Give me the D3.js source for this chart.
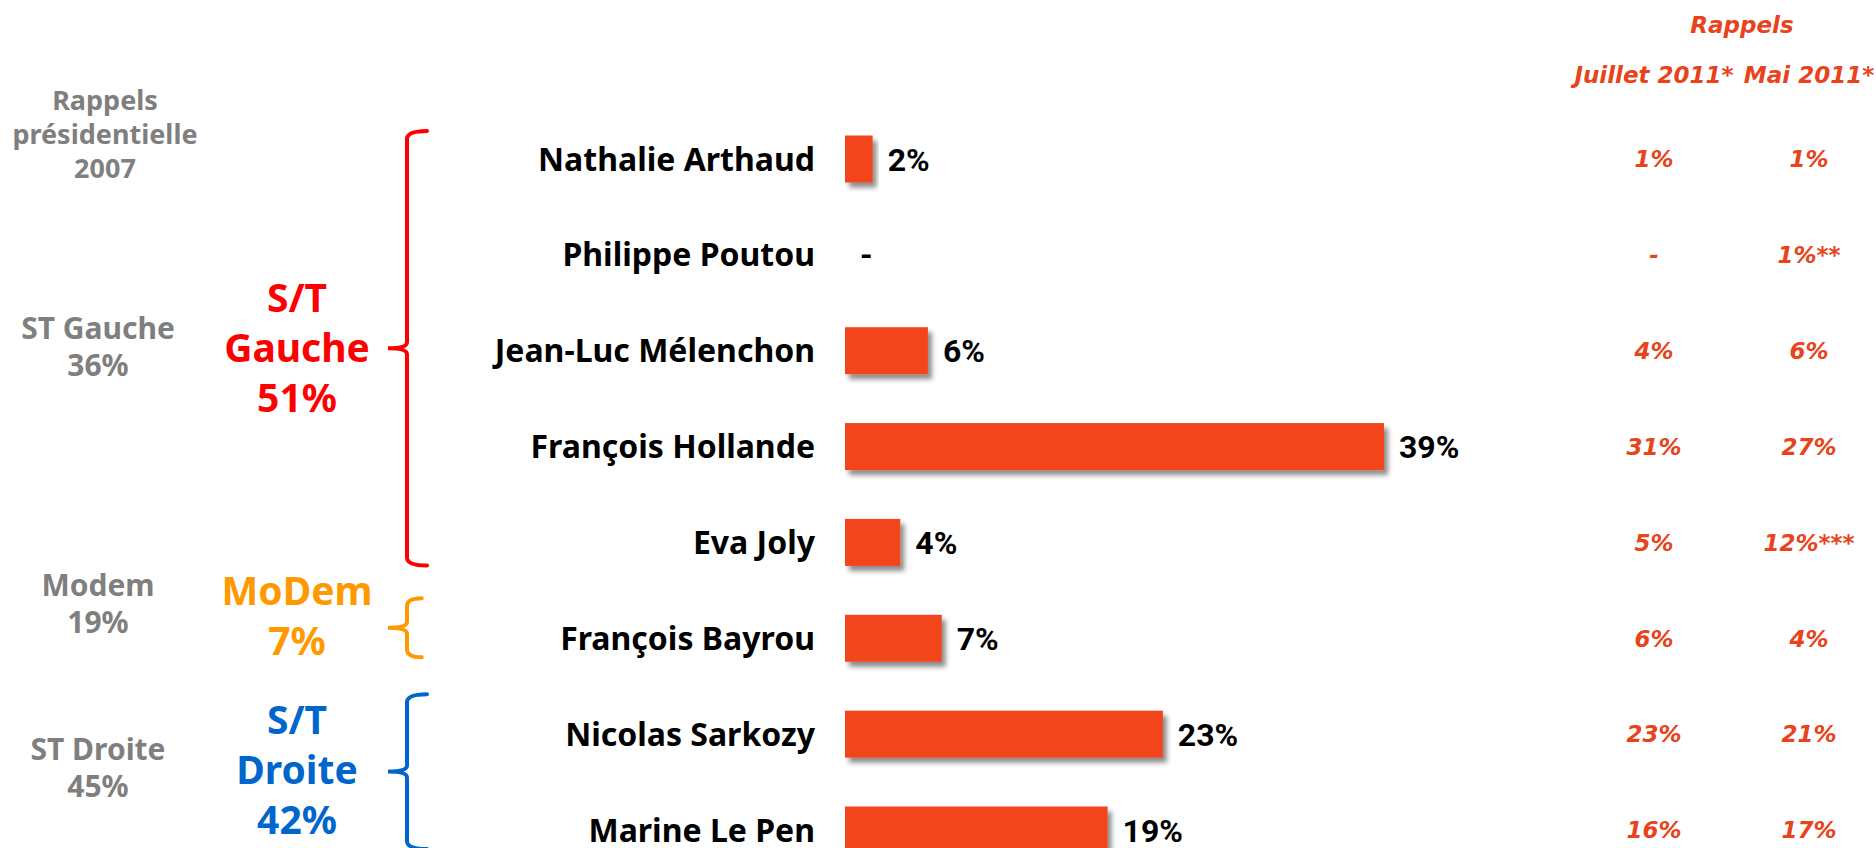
<!DOCTYPE html>
<html>
<head>
<meta charset="utf-8">
<script src="https://cdn.jsdelivr.net/npm/d3@7"></script>
<style>
  body { margin: 0; background: #fff; }
  svg { display: block; }
</style>
</head>
<body>
<div id="chart"></div>
<script>
// candidates, top to bottom
var candidates = ["Nathalie Arthaud", "Philippe Poutou", "Jean-Luc Mélenchon", "François Hollande",
                  "Eva Joly", "François Bayrou", "Nicolas Sarkozy", "Marine Le Pen"];
// current vote intention (%), null = no score ("-")
var scores = [2, null, 6, 39, 4, 7, 23, 19];

// right hand "Rappels" columns
var rappelHeaders = ["Juillet 2011*", "Mai 2011*"];
var rappelJuillet = ["1%", "-", "4%", "31%", "5%", "6%", "23%", "16%"];
var rappelMai = ["1%", "1%**", "6%", "27%", "12%***", "4%", "21%", "17%"];

// groups (sous-totaux) and the 2007 reminder
var groupKeys = ["gauche", "modem", "droite"];
var groupLabels = [["S/T", "Gauche", "51%"], ["MoDem", "7%"], ["S/T", "Droite", "42%"]];
var groupFirst = ["Nathalie Arthaud", "François Bayrou", "Nicolas Sarkozy"];
var groupLast = ["Eva Joly", "François Bayrou", "Marine Le Pen"];
var rappels2007Title = ["Rappels", "présidentielle", "2007"];
var rappels2007 = [["ST Gauche", "36%"], ["Modem", "19%"], ["ST Droite", "45%"]];

function init(){
    var w = 1876;
    var h = 848;

    var barColor = "#f3451c";
    var rappelColor = "#e8431b";
    var grey = "#7f7f7f";
    var groupColor = { gauche: "#ff0000", modem: "#ff9900", droite: "#0066cc" };
    // brace padding above first / below last row, and shift of the label blocks
    var bracePad = { gauche: [28, 23], modem: [40, 19], droite: [40, 19] };
    var labelShift = { gauche: 0, modem: -12, droite: -2 };
    var greyShift = { gauche: -2, modem: -24, droite: -4 };

    var nameFont = "'Noto Sans', 'DejaVu Sans', sans-serif";
    var valueFont = "'Liberation Sans Narrow', 'Roboto', sans-serif";
    var italFont = "'DejaVu Sans', sans-serif";

    var svg = d3.select("#chart")
      .append("svg")
      .attr("width", w)
      .attr("height", h);

    var defs = svg.append("defs");
    var f = defs.append("filter").attr("id", "shadow")
      .attr("x", "-10%").attr("y", "-30%").attr("width", "130%").attr("height", "180%");
    f.append("feDropShadow")
      .attr("dx", 4).attr("dy", 5).attr("stdDeviation", 2.5)
      .attr("flood-color", "#000").attr("flood-opacity", 0.45);

    var xScale = d3.scaleLinear()
      .domain([0, d3.max(scores)])
      .range([845, 1384]);

    var yScale = d3.scalePoint()
      .domain(candidates)
      .range([159, 830]);

    var barH = 47;

    var rows = candidates.map(function(c, i){
      return { name: c, score: scores[i], juillet: rappelJuillet[i], mai: rappelMai[i] };
    });

    // bars
    svg.append("g").selectAll("rect")
      .data(rows.filter(function(d){ return d.score != null; }))
      .enter().append("rect")
      .attr("x", xScale(0))
      .attr("y", function(d){ return yScale(d.name) - barH / 2; })
      .attr("width", function(d){ return xScale(d.score) - xScale(0); })
      .attr("height", barH)
      .attr("fill", barColor)
      .attr("filter", "url(#shadow)");

    // candidate names
    svg.append("g").selectAll("text")
      .data(rows)
      .enter().append("text")
      .attr("x", 815)
      .attr("y", function(d){ return yScale(d.name); })
      .attr("dy", "0.36em")
      .attr("text-anchor", "end")
      .style("font-family", nameFont)
      .style("font-weight", "bold")
      .style("font-size", "32px")
      .style("fill", "#000")
      .text(function(d){ return d.name; });

    // value labels
    svg.append("g").selectAll("text")
      .data(rows)
      .enter().append("text")
      .attr("x", function(d){ return xScale(d.score == null ? 0 : d.score) + 15; })
      .attr("y", function(d){ return yScale(d.name); })
      .attr("dy", "0.36em")
      .style("font-family", valueFont)
      .style("font-weight", "bold")
      .style("font-size", "32px")
      .style("fill", "#000")
      .text(function(d){ return d.score == null ? "-" : d.score + "%"; });

    // Rappels columns
    var colX = [1654, 1809];
    function italic(sel){
      return sel.style("font-family", italFont)
        .style("font-weight", "bold")
        .style("font-style", "oblique")
        .style("font-size", "23px")
        .style("fill", rappelColor)
        .attr("text-anchor", "middle");
    }
    svg.append("text").attr("x", 1742).attr("y", 33).text("Rappels").call(italic);
    rappelHeaders.forEach(function(t, i){
      svg.append("text").attr("x", colX[i]).attr("y", 83).text(t).call(italic);
    });
    [rappelJuillet, rappelMai].forEach(function(col, i){
      svg.append("g").selectAll("text")
        .data(col)
        .enter().append("text")
        .attr("x", colX[i])
        .attr("y", function(d, j){ return yScale(candidates[j]); })
        .attr("dy", "0.36em")
        .text(function(d){ return d; })
        .call(italic);
    });

    // 2007 reminder title
    svg.append("text")
      .attr("x", 105).attr("y", 110)
      .attr("text-anchor", "middle")
      .style("font-family", nameFont).style("font-weight", "bold")
      .style("font-size", "27px").style("fill", grey)
      .selectAll("tspan").data(rappels2007Title).enter().append("tspan")
      .attr("x", 105).attr("dy", function(d, i){ return i == 0 ? 0 : 34; })
      .text(function(d){ return d; });

    // braces + group labels
    groupKeys.forEach(function(k, i){
      var top = yScale(groupFirst[i]) - bracePad[k][0];
      var bot = yScale(groupLast[i]) + bracePad[k][1];
      var mid = (top + bot) / 2;
      var bx = 407, tip = 388;
      var hook = Math.min(20, (bot - top) / 4);
      var p = d3.path();
      p.moveTo(bx + hook, top);
      p.quadraticCurveTo(bx, top, bx, top + 8);
      p.lineTo(bx, mid - 6);
      p.quadraticCurveTo(bx, mid, tip, mid);
      p.quadraticCurveTo(bx, mid, bx, mid + 6);
      p.lineTo(bx, bot - 8);
      p.quadraticCurveTo(bx, bot, bx + hook, bot);
      svg.append("path")
        .attr("d", p.toString())
        .attr("fill", "none")
        .attr("stroke", groupColor[k])
        .attr("stroke-width", 4)
        .attr("stroke-linecap", "round");

      var c = mid + labelShift[k];
      var lines = groupLabels[i];
      var lh = 50;
      var y0 = c - (lines.length - 1) * lh / 2;
      svg.append("g").selectAll("text")
        .data(lines).enter().append("text")
        .attr("x", 297)
        .attr("y", function(d, j){ return y0 + j * lh; })
        .attr("dy", "0.36em")
        .attr("text-anchor", "middle")
        .style("font-family", nameFont).style("font-weight", "bold")
        .style("font-size", "39px").style("fill", groupColor[k])
        .text(function(d){ return d; });

      var g7 = rappels2007[i];
      var gy0 = mid + greyShift[k] - (g7.length - 1) * 37 / 2;
      svg.append("g").selectAll("text")
        .data(g7).enter().append("text")
        .attr("x", 98)
        .attr("y", function(d, j){ return gy0 + j * 37; })
        .attr("dy", "0.36em")
        .attr("text-anchor", "middle")
        .style("font-family", nameFont).style("font-weight", "bold")
        .style("font-size", "30px").style("fill", grey)
        .text(function(d){ return d; });
    });
}

window.onload = init;
</script>
</body>
</html>
